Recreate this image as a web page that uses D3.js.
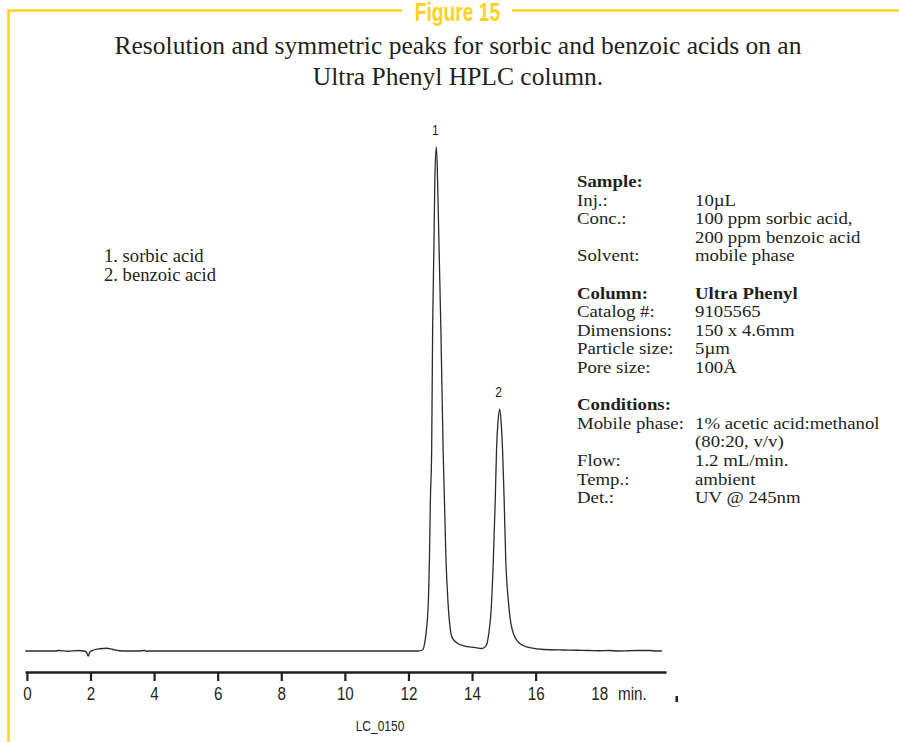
<!DOCTYPE html>
<html>
<head>
<meta charset="utf-8">
<script src="https://cdn.jsdelivr.net/npm/d3@7"></script>
<style>
  body { margin: 0; background: #fff; }
</style>
</head>
<body>
<div id="chart"></div>
<script>
// chromatogram: time (min) and detector response (peak 1 = 100)
const TIME = [
  -0.05, 0.9, 1.0, 1.3, 1.6, 1.8, 1.88, 1.93, 1.98, 2.1, 2.3, 2.5, 2.7, 2.9, 3.2, 3.5, 3.7, 3.75, 3.8,
  8.0, 12.3, 12.445, 12.5, 12.565, 12.628, 12.66, 12.69, 12.73, 12.76, 12.8, 12.83, 12.875,
  12.905, 12.95, 13.02, 13.09, 13.18, 13.24, 13.31, 13.38, 13.53, 13.75, 14.07, 14.32,
  14.44, 14.52, 14.6, 14.67, 14.73, 14.77, 14.82, 14.87,
  14.91, 14.96, 15.01, 15.06, 15.14, 15.23, 15.42, 15.64, 15.86, 16.26, 16.89, 17.3, 17.68,
  18.0, 18.3, 18.6, 18.93, 19.2, 19.56, 19.8, 19.97
];
const SIGNAL = [
  0, 0, 0.1, -0.05, 0.1, 0, -0.3, -1.0, -0.2, 0.2, 0.45, 0.55, 0.3, 0.05, 0, 0, 0.1, -0.05, 0,
  0, 0, 0.2, 1.2, 4.2, 10.1, 18.1, 30, 39.9, 63.7, 79.6, 93.5, 100,
  96.4, 83.5, 63.7, 39.9, 18.1, 10.1, 4.6, 2.6, 1.6, 1.0, 0.7, 0.5,
  1.0, 3.2, 8.1, 18.1, 30, 39.9, 45.8, 48,
  45.8, 39.9, 30, 18.1, 10.1, 5.2, 2.0, 1.0, 0.6, 0.3, 0.2, 0.15, 0.1,
  0.05, 0.1, 0.0, 0.05, 0.1, 0.1, 0.0, 0.05
];
const PEAK_IDS = ["1", "2"];
const PEAK_TIMES = [12.875, 14.87];
const PEAK_SIGNALS = [100, 48];

const TICKS = [0, 2, 4, 6, 8, 10, 12, 14, 16, 18];
const LEGEND = ["1. sorbic acid", "2. benzoic acid"];

const TITLE = "Figure 15";
const SUBTITLE = [
  "Resolution and symmetric peaks for sorbic and benzoic acids on an",
  "Ultra Phenyl HPLC column."
];
// [label, value, bold]; null rows are blank lines
const INFO = [
  ["Sample:", "", true],
  ["Inj.:", "10\u00b5L", false],
  ["Conc.:", "100 ppm sorbic acid,", false],
  ["", "200 ppm benzoic acid", false],
  ["Solvent:", "mobile phase", false],
  null,
  ["Column:", "Ultra Phenyl", true],
  ["Catalog #:", "9105565", false],
  ["Dimensions:", "150 x 4.6mm", false],
  ["Particle size:", "5\u00b5m", false],
  ["Pore size:", "100\u00c5", false],
  null,
  ["Conditions:", "", true],
  ["Mobile phase:", "1% acetic acid:methanol", false],
  ["", "(80:20, v/v)", false],
  ["Flow:", "1.2 mL/min.", false],
  ["Temp.:", "ambient", false],
  ["Det.:", "UV @ 245nm", false]
];
const CODE = "LC_0150";

const WIDTH = 899;
const HEIGHT = 742;
const YELLOW = "#fdd21f";
const INK = "#231f20";
const SERIF = "'Liberation Serif', 'Times New Roman', serif";
const SANS = "'Liberation Sans', Arial, sans-serif";
const NARROW = 0.8; // la fuente original es condensada

const svg = d3.select("#chart").append("svg")
  .attr("width", WIDTH).attr("height", HEIGHT);

// marco amarillo
svg.append("path")
  .attr("d", `M${WIDTH},10.5 H8.5 V${HEIGHT}`)
  .attr("fill", "none").attr("stroke", YELLOW).attr("stroke-width", 2.5);
svg.append("rect")
  .attr("x", 402).attr("y", 0).attr("width", 110).attr("height", 22)
  .attr("fill", "#fff");
svg.append("text")
  .attr("transform", "translate(457.5,21) scale(0.74,1)")
  .attr("text-anchor", "middle")
  .attr("font-family", SANS).attr("font-weight", "bold").attr("font-size", 26)
  .attr("fill", YELLOW)
  .text(TITLE);

svg.append("g").selectAll("text")
  .data(SUBTITLE)
  .join("text")
  .attr("x", 458).attr("y", (d, i) => 54 + i * 31)
  .attr("text-anchor", "middle")
  .attr("font-family", SERIF).attr("font-size", 25.5).attr("fill", INK)
  .text(d => d);

// escalas
const x = d3.scaleLinear().domain([-0.06, 20.1]).range([25, 666]);
const y = d3.scaleLinear().domain([0, 100]).range([651, 147]);

const trace = TIME.map((t, i) => [t, SIGNAL[i]]);
const line = d3.line()
  .x(d => x(d[0]))
  .y(d => y(d[1]))
  .curve(d3.curveMonotoneX);

svg.append("path")
  .datum(trace)
  .attr("d", line)
  .attr("fill", "none")
  .attr("stroke", "#2b2b2b")
  .attr("stroke-width", 1.3)
  .attr("stroke-linejoin", "round");

svg.append("g").selectAll("text")
  .data(PEAK_IDS)
  .join("text")
  .attr("transform", (d, i) =>
    `translate(${x(PEAK_TIMES[i]) - 1},${y(PEAK_SIGNALS[i]) - 12}) scale(${NARROW},1)`)
  .attr("text-anchor", "middle")
  .attr("font-family", SANS).attr("font-size", 15).attr("fill", INK)
  .text(d => d);

// eje x
const xAxis = d3.axisBottom(x)
  .tickValues(TICKS)
  .tickSize(9)
  .tickSizeOuter(0)
  .tickPadding(6)
  .tickFormat(d3.format("d"));

const gx = svg.append("g")
  .attr("transform", "translate(0,672)")
  .call(xAxis);
gx.select(".domain").attr("stroke", INK).attr("stroke-width", 2.6);
gx.selectAll(".tick line").attr("stroke", INK).attr("stroke-width", 2.2)
  .filter(d => d === 18).remove();
gx.selectAll(".tick text")
  .attr("font-family", SANS).attr("font-size", 19).attr("fill", INK)
  .attr("transform", `scale(${NARROW},1)`);

svg.append("text")
  .attr("transform", `translate(618,700) scale(${NARROW},1)`)
  .attr("font-family", SANS).attr("font-size", 19).attr("fill", INK)
  .text("min.");
svg.append("rect")
  .attr("x", x(20.43) - 1).attr("y", 696).attr("width", 2.5).attr("height", 6)
  .attr("fill", INK);

svg.append("text")
  .attr("transform", `translate(380,731) scale(${NARROW},1)`)
  .attr("text-anchor", "middle")
  .attr("font-family", SANS).attr("font-size", 15).attr("fill", INK)
  .text(CODE);

// leyenda
svg.append("g").selectAll("text")
  .data(LEGEND)
  .join("text")
  .attr("x", 104).attr("y", (d, i) => 262 + i * 19)
  .attr("font-family", SERIF).attr("font-size", 18.6).attr("fill", INK)
  .text(d => d);

// condiciones (texto algo ensanchado, como en el original)
const WIDEN = 1.08;
const info = svg.append("g")
  .attr("transform", `translate(577,0) scale(${WIDEN},1)`)
  .attr("font-family", SERIF).attr("font-size", 17.4).attr("fill", INK);
INFO.forEach((row, i) => {
  if (!row) return;
  const yy = 187 + i * 18.6;
  info.append("text").attr("x", 0).attr("y", yy)
    .attr("font-weight", row[2] ? "bold" : "normal").text(row[0]);
  info.append("text").attr("x", (695 - 577) / WIDEN).attr("y", yy)
    .attr("font-weight", row[2] ? "bold" : "normal").text(row[1]);
});
</script>
</body>
</html>
